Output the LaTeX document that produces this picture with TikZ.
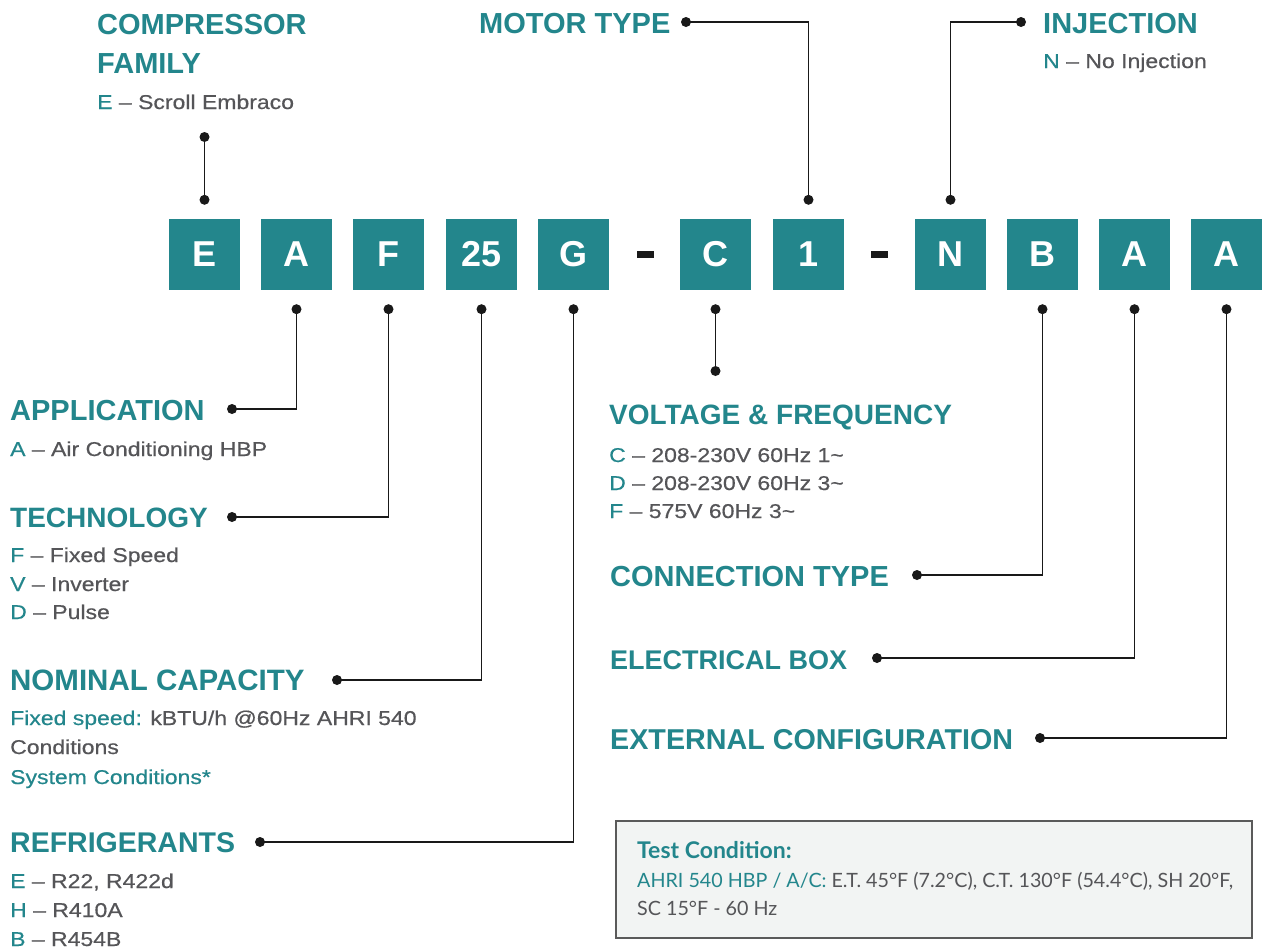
\documentclass[tikz,border=0pt]{standalone}
\usepackage{fontspec}
\setmainfont{Liberation Sans}
\newfontfamily\bodyfont{Liberation Sans}[FakeStretch=1.15,FakeBold=0.5]
\newfontfamily\testfont{Lato}
\definecolor{teal}{RGB}{35,134,140}
\definecolor{txtgray}{RGB}{85,85,88}
\definecolor{linecol}{RGB}{25,25,25}
\definecolor{boxfill}{RGB}{242,244,243}
\definecolor{boxline}{RGB}{90,90,90}
\begin{document}
\begin{tikzpicture}[x=1pt,y=-1pt,
  codebox/.style={fill=teal,minimum width=71pt,minimum height=71pt,inner sep=0pt,
    text=white,font=\fontsize{36}{36}\selectfont\bfseries},
  head/.style={anchor=base west,inner sep=0pt,text=teal,font=\fontsize{29}{29}\selectfont\bfseries},
  headr/.style={anchor=base west,inner sep=0pt,text=teal,font=\fontsize{28}{28}\selectfont\bfseries},
  body/.style={anchor=base west,inner sep=0pt,text=txtgray,font=\bodyfont\fontsize{20}{20}\selectfont},
  conn/.style={draw=linecol,line width=1.3pt},
  dot/.style={fill=linecol}]
\useasboundingbox (0,0) rectangle (1262,951);
\fill[white] (0,0) rectangle (1262,951);
% code boxes
\node[codebox] (bE) at (204.5,254.5) {E};
\node[codebox] (bA) at (296.5,254.5) {A};
\node[codebox] (bF) at (388.5,254.5) {F};
\node[codebox] (b25) at (481.5,254.5) {25};
\node[codebox] (bG) at (573.5,254.5) {G};
\node[codebox] (bC) at (715.5,254.5) {C};
\node[codebox] (b1) at (808.5,254.5) {1};
\node[codebox] (bN) at (950.5,254.5) {N};
\node[codebox] (bB) at (1042.5,254.5) {B};
\node[codebox] (bA2) at (1134.5,254.5) {A};
\node[codebox] (bA3) at (1226.5,254.5) {A};
\fill[linecol] (637,251) rectangle (654,258);
\fill[linecol] (871,251) rectangle (888,258);
% headings
\node[head] (hFam) at (97,34) {COMPRESSOR};
\node[head] (hFam2) at (97,73) {FAMILY};
\node[body] (tFam) at (97,109) {\textcolor{teal}{E} – Scroll Embraco};
\node[head] (hMot) at (479,33) {MOTOR TYPE};
\node[head] (hInj) at (1043,33) {INJECTION};
\node[body] (tInj) at (1043,68) {\textcolor{teal}{N} – No Injection};
\node[head] (hApp) at (10,420) {APPLICATION};
\node[body] (tApp) at (10,456) {\textcolor{teal}{A} – Air Conditioning HBP};
\node[head,font=\fontsize{28}{28}\selectfont\bfseries] (hTec) at (10,527) {TECHNOLOGY};
\node[body] (tTec1) at (10,562) {\textcolor{teal}{F} – Fixed Speed};
\node[body] (tTec2) at (10,591) {\textcolor{teal}{V} – Inverter};
\node[body] (tTec3) at (10,619) {\textcolor{teal}{D} – Pulse};
\node[head,font=\fontsize{29.5}{29.5}\selectfont\bfseries] (hCap) at (10,690) {NOMINAL CAPACITY};
\node[body] (tCap1) at (10,725) {\textcolor{teal}{Fixed speed:} kBTU/h @60Hz AHRI 540};
\node[body] (tCap2) at (10,754) {Conditions};
\node[body,text=teal] (tCap3) at (10,784) {System Conditions*};
\node[head,font=\fontsize{28.5}{28.5}\selectfont\bfseries] (hRef) at (10,852) {REFRIGERANTS};
\node[body] (tRef1) at (10,888) {\textcolor{teal}{E} – R22, R422d};
\node[body] (tRef2) at (10,917) {\textcolor{teal}{H} – R410A};
\node[body] (tRef3) at (10,946) {\textcolor{teal}{B} – R454B};
\node[headr] (hVol) at (609,424) {VOLTAGE \& FREQUENCY};
\node[body] (tVol1) at (609,462) {\textcolor{teal}{C} – 208-230V 60Hz 1\textasciitilde};
\node[body] (tVol2) at (609,490) {\textcolor{teal}{D} – 208-230V 60Hz 3\textasciitilde};
\node[body] (tVol3) at (609,518) {\textcolor{teal}{F} – 575V 60Hz 3\textasciitilde};
\node[head] (hCon) at (610,586) {CONNECTION TYPE};
\node[head,font=\fontsize{27}{27}\selectfont\bfseries] (hEle) at (610,669) {ELECTRICAL BOX};
\node[head,font=\fontsize{28.7}{28.7}\selectfont\bfseries] (hExt) at (610,749) {EXTERNAL CONFIGURATION};
% test condition box
\node[draw=boxline,fill=boxfill,line width=1.2pt,minimum width=636pt,minimum height=117pt,inner sep=0pt] (tc) at (934,879.5) {};
\node[anchor=base west,inner sep=0pt,text=teal,font=\testfont\fontsize{23}{23}\selectfont\bfseries] (tcH) at (637,858) {Test Condition:};
\node[anchor=base west,inner sep=0pt,text=txtgray,font=\testfont\fontsize{19.7}{19.7}\selectfont] (tcL1) at (637,887) {\textcolor{teal}{AHRI 540 HBP / A/C:} E.T. 45°F (7.2°C), C.T. 130°F (54.4°C), SH 20°F,};
\node[anchor=base west,inner sep=0pt,text=txtgray,font=\testfont\fontsize{19.7}{19.7}\selectfont] (tcL2) at (637,915) {SC 15°F - 60 Hz};
% connector points
\coordinate (pE1) at (204.5,137);
\coordinate (pE2) at ([yshift=19pt]bE.north);
\coordinate (pM1) at ([yshift=19pt]b1.north);
\coordinate (pM2) at (686,22);
\coordinate (pN1) at ([yshift=19pt]bN.north);
\coordinate (pN2) at (1021,22);
\coordinate (pA1) at ([yshift=-19pt]bA.south);
\coordinate (pA2) at (232,409);
\coordinate (pF1) at ([yshift=-19pt]bF.south);
\coordinate (pF2) at (232,517);
\coordinate (p251) at ([yshift=-19pt]b25.south);
\coordinate (p252) at (337,680);
\coordinate (pG1) at ([yshift=-19pt]bG.south);
\coordinate (pG2) at (260,842);
\coordinate (pC1) at ([yshift=-19pt]bC.south);
\coordinate (pC2) at (715.5,371);
\coordinate (pB1) at ([yshift=-19pt]bB.south);
\coordinate (pB2) at (917,575);
\coordinate (pX1) at ([yshift=-19pt]bA2.south);
\coordinate (pX2) at (877,658);
\coordinate (pY1) at ([yshift=-19pt]bA3.south);
\coordinate (pY2) at (1040,738);
% connectors
\draw[conn] (pE1) -- (pE2);
\draw[conn] (pM1) |- (pM2);
\draw[conn] (pN1) |- (pN2);
\draw[conn] (pA1) |- (pA2);
\draw[conn] (pF1) |- (pF2);
\draw[conn] (p251) |- (p252);
\draw[conn] (pG1) |- (pG2);
\draw[conn] (pC1) -- (pC2);
\draw[conn] (pB1) |- (pB2);
\draw[conn] (pX1) |- (pX2);
\draw[conn] (pY1) |- (pY2);
\foreach \p in {pE1,pE2,pM1,pM2,pN1,pN2,pA1,pA2,pF1,pF2,p251,p252,pG1,pG2,pC1,pC2,pB1,pB2,pX1,pX2,pY1,pY2}
  \fill[dot] (\p) circle (5pt);
\end{tikzpicture}
\end{document}
